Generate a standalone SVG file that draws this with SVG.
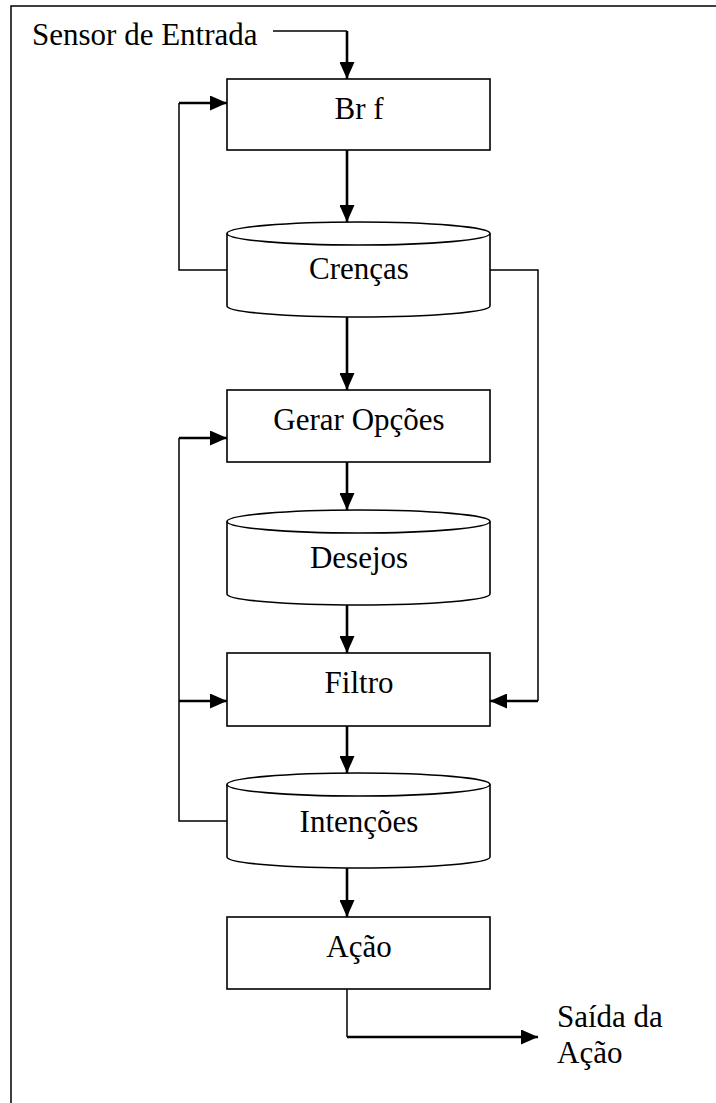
<svg xmlns="http://www.w3.org/2000/svg" width="716" height="1103" viewBox="0 0 716 1103">
<style>
.shape{fill:#fff;stroke:#000;stroke-width:1.6}
.thin{fill:none;stroke:#000;stroke-width:1.5}
.thick{fill:none;stroke:#000;stroke-width:2.6;marker-end:url(#arr)}
.lbl{font-family:"Liberation Serif","Times New Roman",serif;font-size:31px;fill:#000}
.c{text-anchor:middle}
</style>
<defs>
<marker id="arr" markerUnits="userSpaceOnUse" markerWidth="17" markerHeight="15" refX="17" refY="7.5" orient="auto">
<path d="M0,0 L17,7.5 L0,15 z" fill="#000"/>
</marker>
</defs>
<rect width="716" height="1103" fill="#fff"/>
<path class="thin" d="M11,1103 V6 H716"/>
<text class="lbl" x="32" y="45">Sensor de Entrada</text>
<text class="lbl" x="557" y="1027">Saída da</text>
<text class="lbl" x="557" y="1063">Ação</text>

<g id="connectors">
<path class="thin" d="M273,31 H347"/>
<path class="thick" d="M347,31 V79"/>
<path class="thick" d="M347,150 V222"/>
<path class="thick" d="M347,317 V390"/>
<path class="thick" d="M347,462 V510"/>
<path class="thick" d="M347,605 V653"/>
<path class="thick" d="M347,726 V773"/>
<path class="thick" d="M347,868 V917"/>
<path class="thin" d="M347,989 V1037"/>
<path class="thick" d="M347,1037 H538"/>
<path class="thin" d="M227,270 H179 V103"/>
<path class="thick" d="M179,103 H227"/>
<path class="thin" d="M490,270 H538 V701"/>
<path class="thick" d="M538,701 H490"/>
<path class="thin" d="M227,821 H179 V438"/>
<path class="thick" d="M179,438 H227"/>
<path class="thick" d="M179,701 H227"/>
</g>

<g id="brf">
<rect class="shape" x="227" y="79" width="263" height="71"/>
<text class="lbl c" x="359" y="119">Br f</text>
</g>
<g id="crencas">
<path class="shape" d="M227,233.5 V306 A131.5,11 0 0 0 490,306 V233.5"/>
<ellipse class="shape" cx="358.5" cy="233.5" rx="131.5" ry="11.5"/>
<text class="lbl c" x="359" y="279">Crenças</text>
</g>
<g id="gerar">
<rect class="shape" x="227" y="390" width="263" height="72"/>
<text class="lbl c" x="359" y="430">Gerar Opções</text>
</g>
<g id="desejos">
<path class="shape" d="M227,521.5 V594 A131.5,11 0 0 0 490,594 V521.5"/>
<ellipse class="shape" cx="358.5" cy="521.5" rx="131.5" ry="11.5"/>
<text class="lbl c" x="359" y="568">Desejos</text>
</g>
<g id="filtro">
<rect class="shape" x="227" y="653" width="263" height="73"/>
<text class="lbl c" x="359" y="693">Filtro</text>
</g>
<g id="intencoes">
<path class="shape" d="M227,784.5 V857 A131.5,11 0 0 0 490,857 V784.5"/>
<ellipse class="shape" cx="358.5" cy="784.5" rx="131.5" ry="11.5"/>
<text class="lbl c" x="359" y="832">Intenções</text>
</g>
<g id="acao">
<rect class="shape" x="227" y="917" width="263" height="72"/>
<text class="lbl c" x="359" y="957">Ação</text>
</g>
</svg>
